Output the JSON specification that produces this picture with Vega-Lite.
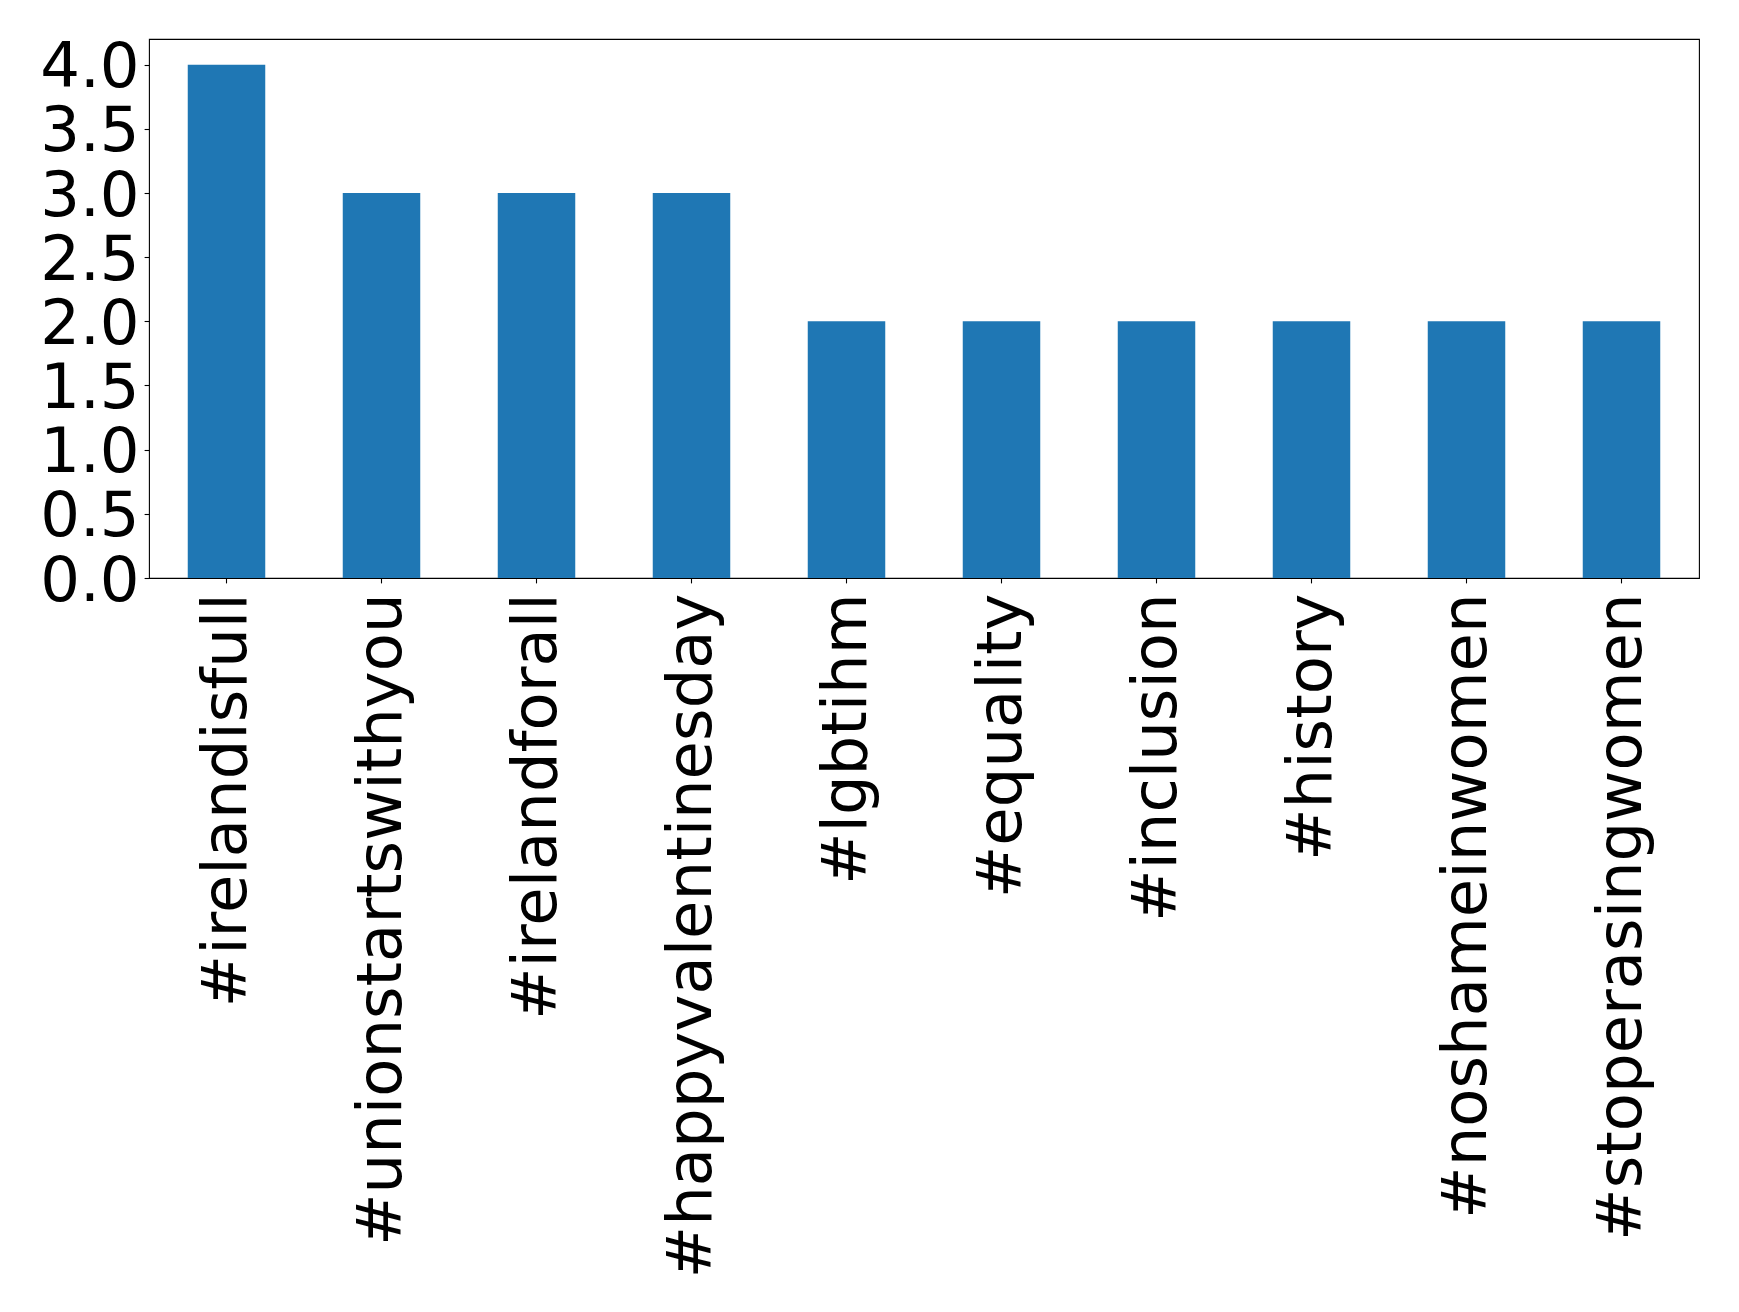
{
  "$schema": "https://vega.github.io/schema/vega-lite/v6.json",
  "width": 1550,
  "height": 539,
  "autosize": {"type": "none"},
  "padding": {"left": 149, "top": 39, "right": 40, "bottom": 734},
  "background": "white",
  "config": {
    "view": {"stroke": "black", "strokeWidth": 1.1},
    "font": "DejaVu Sans"
  },
  "data": {
    "values": [
      {"tag": "#irelandisfull", "count": 4},
      {"tag": "#unionstartswithyou", "count": 3},
      {"tag": "#irelandforall", "count": 3},
      {"tag": "#happyvalentinesday", "count": 3},
      {"tag": "#lgbtihm", "count": 2},
      {"tag": "#equality", "count": 2},
      {"tag": "#inclusion", "count": 2},
      {"tag": "#history", "count": 2},
      {"tag": "#noshameinwomen", "count": 2},
      {"tag": "#stoperasingwomen", "count": 2}
    ]
  },
  "mark": {"type": "bar", "color": "#1f77b4"},
  "encoding": {
    "x": {
      "field": "tag",
      "type": "nominal",
      "sort": null,
      "scale": {"paddingInner": 0.5, "paddingOuter": 0.25},
      "axis": {
        "title": null,
        "labelAngle": -90,
        "labelAlign": "right",
        "labelBaseline": "middle",
        "labelFontSize": 62.5,
        "labelFont": "DejaVu Sans",
        "labelColor": "black",
        "labelPadding": 10,
        "labelLimit": 0,
        "ticks": true,
        "tickSize": 4.9,
        "tickWidth": 1.1,
        "tickColor": "black",
        "domain": false,
        "grid": false
      }
    },
    "y": {
      "field": "count",
      "type": "quantitative",
      "scale": {"domain": [0, 4.2], "nice": false},
      "axis": {
        "title": null,
        "values": [0, 0.5, 1, 1.5, 2, 2.5, 3, 3.5, 4],
        "format": ".1f",
        "labelFontSize": 62.5,
        "labelFont": "DejaVu Sans",
        "labelColor": "black",
        "labelPadding": 5,
        "labelOffset": 3,
        "labelBaseline": "middle",
        "labelFlush": false,
        "labelOverlap": false,
        "tickSize": 4.9,
        "tickWidth": 1.1,
        "tickColor": "black",
        "domain": false,
        "grid": false
      }
    }
  }
}
